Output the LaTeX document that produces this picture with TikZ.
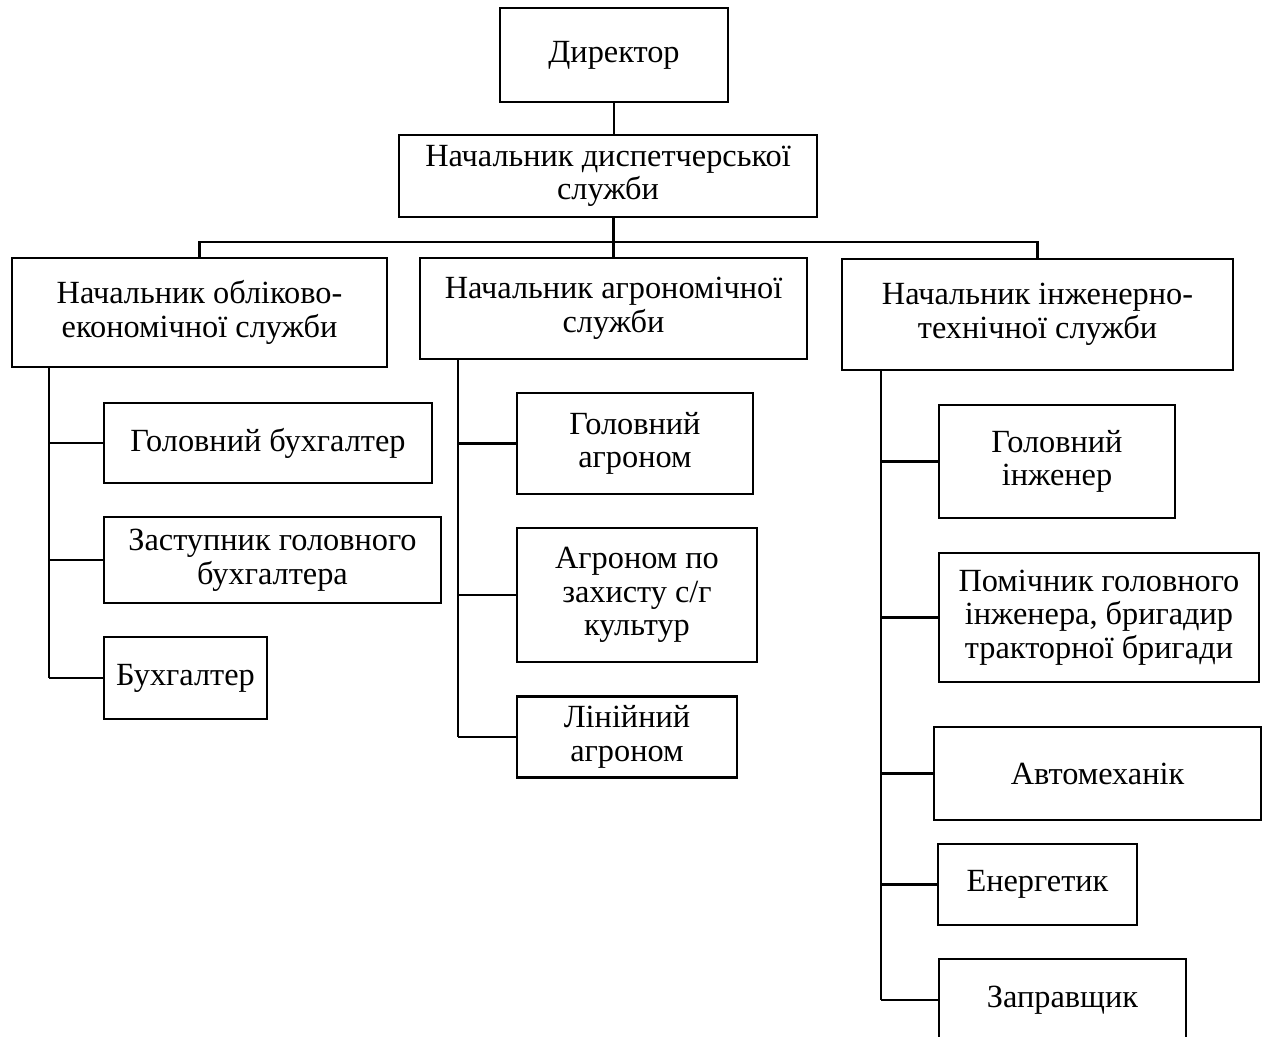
\documentclass[tikz,border=0pt]{standalone}
\usepackage{fontspec}
\setmainfont{Liberation Serif}
\tikzset{
  unit/.style={draw, line width=1.6pt, align=center, inner sep=0pt,
    font=\fontsize{18.4}{19.2}\selectfont},
  sized/.style 2 args={minimum width=#1*0.02cm, minimum height=#2*0.02cm},
  link/.style={line width=1.6pt}
}

\begin{document}
\begin{tikzpicture}[x=0.02cm,y=-0.02cm]
\useasboundingbox (0,0) rectangle (1265,1037);
\node[unit,sized={228}{94}] (dir) at (614,55) {Директор};
\node[unit,sized={418}{82}] (disp) at (608,176) {Начальник диспетчерської\\служби};
\node[unit,sized={375}{109}] (econ) at (199.5,312.5) {Начальник обліково-\\економічної служби};
\node[unit,sized={387}{101}] (agro) at (613.5,308.5) {Начальник агрономічної\\служби};
\node[unit,sized={391}{111}] (tech) at (1037.5,314.5) {Начальник інженерно-\\технічної служби};

\node[unit,sized={328}{80}] (econ1) at (268,443) {Головний бухгалтер};
\node[unit,sized={337}{86}] (econ2) at (272.5,560) {Заступник головного\\бухгалтера};
\node[unit,sized={163}{82}] (econ3) at (185.5,678) {Бухгалтер};

\node[unit,sized={236}{101}] (agro1) at (635,443.5) {Головний\\агроном};
\node[unit,sized={240}{134}] (agro2) at (637,595) {Агроном по\\захисту с/г\\культур};
\node[unit,sized={220}{81}] (agro3) at (627,737) {Лінійний\\агроном};

\node[unit,sized={236}{113}] (tech1) at (1057,461.5) {Головний\\інженер};
\node[unit,sized={320}{129}] (tech2) at (1099,617.5) {Помічник головного\\інженера, бригадир\\тракторної бригади};
\node[unit,sized={327}{93}] (tech3) at (1097.5,773.5) {Автомеханік};
\node[unit,sized={199}{81}] (tech4) at (1037.5,884.5) {Енергетик};
\node[unit,sized={247}{82}] (tech5) at (1062.5,1000) {Заправщик};

\coordinate (bus) at (0,242);
\coordinate (espine) at (49,0);
\coordinate (aspine) at (458,0);
\coordinate (tspine) at (881,0);

\draw[link] (dir.south) -- (dir.south |- disp.north);
\draw[link] (agro.north) -- (agro.north |- disp.south);
\draw[link] (econ.north) -- (econ.north |- bus) -- (tech.north |- bus) -- (tech.north);

\draw[link] (espine |- econ.south) -- (espine |- econ3.west);
\draw[link] (aspine |- agro.south) -- (aspine |- agro3.west);
\draw[link] (tspine |- tech.south) -- (tspine |- tech5.west);
\foreach \c/\s in {econ1/espine, econ2/espine, econ3/espine,
  agro1/aspine, agro2/aspine, agro3/aspine,
  tech1/tspine, tech2/tspine, tech3/tspine, tech4/tspine, tech5/tspine}
  \draw[link] (\c.west) -- (\s |- \c.west);
\end{tikzpicture}
\end{document}
